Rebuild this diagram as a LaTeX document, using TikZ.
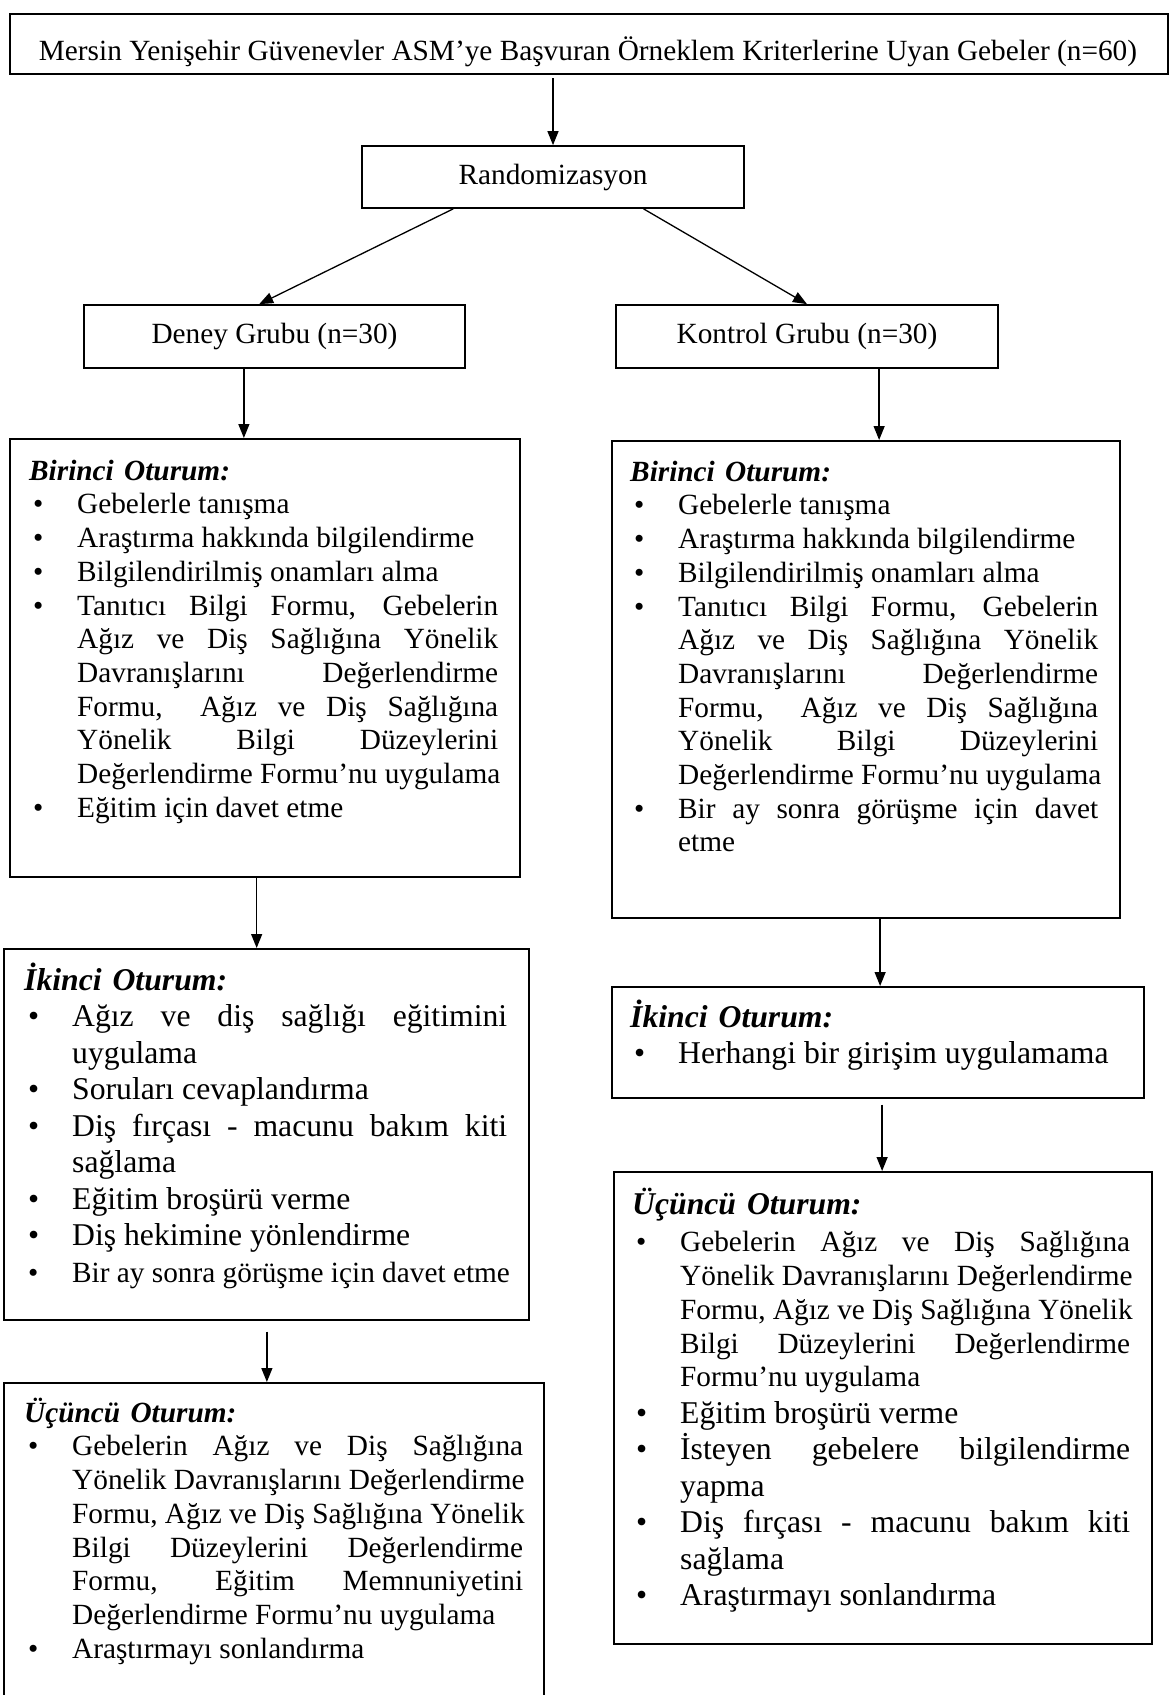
\documentclass[tikz,border=0pt]{standalone}
\usepackage{fontspec}
\setmainfont{Liberation Serif}
\usetikzlibrary{arrows.meta,calc}
\def\TW{400pt}
\newcommand\fsA{\fontsize{29.3pt}{33.7pt}\selectfont\spaceskip=0.25em plus 0.1em\relax}
\newcommand\fsB{\fontsize{31.7pt}{36.5pt}\selectfont\spaceskip=0.25em plus 0.1em\relax}
\newcommand\HD[1]{\leavevmode\smash{\textbf{\textit{#1}}}\par}
\newcommand\JBX[1]{\hbox to \TW{\spaceskip=0.25em plus 1fil\relax #1}}
\newcommand\LB[1]{\leavevmode\rlap{\hspace*{4pt}\textbullet}\hspace*{48pt}#1\par}
\newcommand\LBJ[1]{\leavevmode\rlap{\hspace*{4pt}\textbullet}\hspace*{48pt}\JBX{#1}\par}
\newcommand\LN[1]{\leavevmode\hspace*{48pt}#1\par}
\newcommand\LJ[1]{\leavevmode\hspace*{48pt}\JBX{#1}\par}
\newcommand\DS{\hspace{0pt plus 1fil} }
\tikzset{
  box/.style={draw, line width=1.7pt, inner sep=0pt, anchor=north west},
  cbox/.style={draw, line width=1.7pt, inner sep=0pt, font=\fsA},
  content/.style={inner sep=0pt, anchor=north west, text width=640pt},
  arr/.style={line width=1.3pt, -{Triangle[length=14pt,width=11pt]}},
}
\begin{document}
\begin{tikzpicture}[x=1pt,y=-1pt]
\useasboundingbox (0,0) rectangle (1175,1695);
\fill[white] (0,0) rectangle (1175,1695);

% top
\node[box, line width=2pt, minimum width=1158pt, minimum height=60pt] (topbox) at (9,13) {};
\node[anchor=base, inner sep=0pt, font=\fsA] (toptext) at (588,60) {Mersin Yenişehir Güvenevler ASM’ye Başvuran Örneklem Kriterlerine Uyan Gebeler (n=60)};

\node[cbox, minimum width=382pt, minimum height=62pt] (rand) at (553,177) {Randomizasyon};
\node[cbox, minimum width=381pt, minimum height=63pt] (deney) at (274.5,336.5) {Deney Grubu (n=30)};
\node[cbox, minimum width=382pt, minimum height=63pt] (kontrol) at (807,336.5) {Kontrol Grubu (n=30)};

% boxes
\node[box, minimum width=510pt, minimum height=438pt] (birL) at (9,438) {};
\node[box, minimum width=508pt, minimum height=477pt] (birR) at (611,440) {};
\node[box, minimum width=525pt, minimum height=371pt] (ikiL) at (3,948) {};
\node[box, minimum width=532pt, minimum height=111pt] (ikiR) at (611,986) {};
\node[box, minimum width=538pt, minimum height=472pt] (ucR) at (613,1171) {};
\node[box, minimum width=540pt, minimum height=420pt] (ucL) at (3,1382) {};

% contents
\node[content] (birLt) at (29,480) {\fsA\def\TW{421pt}%
\HD{Birinci\hspace{3pt} Oturum:}%
\LB{Gebelerle tanışma}%
\LB{Araştırma hakkında bilgilendirme}%
\LB{Bilgilendirilmiş onamları alma}%
\LBJ{Tanıtıcı Bilgi Formu, Gebelerin}%
\LJ{Ağız ve Diş Sağlığına Yönelik}%
\LJ{Davranışlarını Değerlendirme}%
\LJ{Formu,\DS Ağız ve Diş Sağlığına}%
\LJ{Yönelik Bilgi Düzeylerini}%
\LN{Değerlendirme Formu’nu uygulama}%
\LB{Eğitim için davet etme}};

\node[content] (birRt) at (630,481) {\fsA\def\TW{420pt}%
\HD{Birinci\hspace{3pt} Oturum:}%
\LB{Gebelerle tanışma}%
\LB{Araştırma hakkında bilgilendirme}%
\LB{Bilgilendirilmiş onamları alma}%
\LBJ{Tanıtıcı Bilgi Formu, Gebelerin}%
\LJ{Ağız ve Diş Sağlığına Yönelik}%
\LJ{Davranışlarını Değerlendirme}%
\LJ{Formu,\DS Ağız ve Diş Sağlığına}%
\LJ{Yönelik Bilgi Düzeylerini}%
\LN{Değerlendirme Formu’nu uygulama}%
\LBJ{Bir ay sonra görüşme için davet}%
\LN{etme}};

\node[content] (ikiLt) at (24,990) {\fsB\def\TW{435pt}%
\HD{İkinci\hspace{3pt} Oturum:}%
\LBJ{Ağız ve diş sağlığı eğitimini}%
\LN{uygulama}%
\LB{Soruları cevaplandırma}%
\LBJ{Diş fırçası - macunu bakım kiti}%
\LN{sağlama}%
\LB{Eğitim broşürü verme}%
\LB{Diş hekimine yönlendirme}%
\vspace*{3pt}{\fsA\LB{Bir ay sonra görüşme için davet etme}}};

\node[content] (ikiRt) at (630,1027) {\fsB\def\TW{450pt}%
\HD{İkinci\hspace{3pt} Oturum:}%
\LB{Herhangi bir girişim uygulamama}};

\node[content] (ucRt) at (632,1214) {\fsB\def\TW{450pt}%
\HD{Üçüncü\hspace{3pt} Oturum:}\vspace*{4pt}%
{\fsA\LBJ{Gebelerin Ağız ve Diş Sağlığına}%
\LJ{Yönelik Davranışlarını Değerlendirme}%
\LJ{Formu,\DS Ağız ve Diş Sağlığına Yönelik}%
\LJ{Bilgi Düzeylerini Değerlendirme}%
\LN{Formu’nu uygulama}}%
\LB{Eğitim broşürü verme}%
\LBJ{İsteyen gebelere bilgilendirme}%
\LN{yapma}%
\LBJ{Diş fırçası - macunu bakım kiti}%
\LN{sağlama}%
\LB{Araştırmayı sonlandırma}};

\node[content] (ucLt) at (24,1422) {\fsA\def\TW{451pt}%
\HD{Üçüncü\hspace{3pt} Oturum:}%
\LBJ{Gebelerin Ağız ve Diş Sağlığına}%
\LJ{Yönelik Davranışlarını Değerlendirme}%
\LJ{Formu,\DS Ağız ve Diş Sağlığına Yönelik}%
\LJ{Bilgi Düzeylerini Değerlendirme}%
\LJ{Formu, Eğitim Memnuniyetini}%
\LN{Değerlendirme Formu’nu uygulama}%
\LB{Araştırmayı sonlandırma}};

% connectors
\draw[arr, shorten <=3pt] (rand.north |- topbox.south) -- (rand.north);
\coordinate (r1) at ($(rand.south west)!0.24!(rand.south east)$);
\coordinate (r2) at ($(rand.south west)!0.736!(rand.south east)$);
\coordinate (dIn) at ($(deney.north west)!0.46!(deney.north east)$);
\draw[arr] (r1) -- (dIn);
\draw[arr] (r2) -- (kontrol.north);
\coordinate (d1) at ($(deney.south west)!0.42!(deney.south east)$);
\draw[arr] (d1) -- (d1 |- birL.north);
\coordinate (k1) at ($(kontrol.south west)!0.688!(kontrol.south east)$);
\draw[arr] (k1) -- (k1 |- birR.north);
\coordinate (b1) at ($(birL.south west)!0.484!(birL.south east)$);
\draw[arr] (b1) -- (b1 |- ikiL.north);
\coordinate (b2) at ($(birR.south west)!0.528!(birR.south east)$);
\draw[arr] (b2) -- (b2 |- ikiR.north);
\coordinate (i1) at ($(ikiL.south west)!0.501!(ikiL.south east)$);
\draw[arr, shorten <=11pt] (i1) -- (i1 |- ucL.north);
\coordinate (i2) at ($(ikiR.south west)!0.508!(ikiR.south east)$);
\draw[arr, shorten <=6pt] (i2) -- (i2 |- ucR.north);
\end{tikzpicture}
\end{document}
